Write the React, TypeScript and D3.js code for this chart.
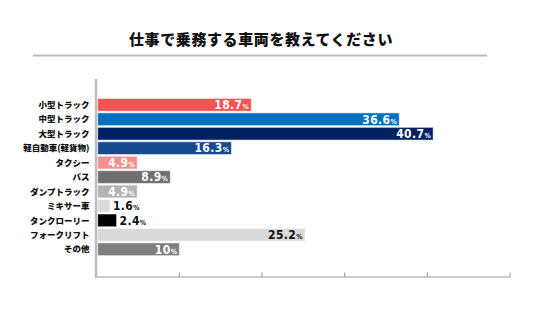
import React from "react";
import * as d3 from "d3";

const title = "仕事で乗務する車両を教えてください";
const categories = [
  "小型トラック",
  "中型トラック",
  "大型トラック",
  "軽自動車(軽貨物)",
  "タクシー",
  "バス",
  "ダンプトラック",
  "ミキサー車",
  "タンクローリー",
  "フォークリフト",
  "その他",
];
const values = [18.7, 36.6, 40.7, 16.3, 4.9, 8.9, 4.9, 1.6, 2.4, 25.2, 10];
const barColors = [
  "#f25353",
  "#0070c0",
  "#002060",
  "#174a8c",
  "#f78e8e",
  "#6f6f6f",
  "#b3b3b3",
  "#dcdcdc",
  "#000000",
  "#dadada",
  "#7f7f7f",
];
const xTicks = [10, 20, 30, 40, 50];

const W = 536;
const H = 335;

export default function App() {
  const x = d3.scaleLinear().domain([0, 50]).range([96.7, 510]);
  const y = d3
    .scaleBand<string>()
    .domain(categories)
    .range([97.6, 256.5])
    .paddingInner(0.12)
    .paddingOuter(0.06);
  const axisColor = "#bdbdbd";
  const jp = "'Noto Sans CJK JP', 'Noto Sans', sans-serif";
  const num = "'DejaVu Sans Condensed', 'DejaVu Sans', sans-serif";

  return (
    <svg
      width={W}
      height={H}
      viewBox={`0 0 ${W} ${H}`}
      style={{ position: "absolute", left: 0, top: 0, background: "#fff" }}
    >
      <text
        x={261}
        y={45}
        textAnchor="middle"
        fontFamily={jp}
        fontWeight={900}
        fontSize={15}
        letterSpacing={0.6}
        fill="#111"
      >
        {title}
      </text>
      <line x1={33} x2={487} y1={55.5} y2={55.5} stroke="#bbbbbb" strokeWidth={2} />

      {categories.map((c, i) => {
        const v = values[i];
        const y0 = y(c)!;
        const bw = y.bandwidth();
        const x1 = x(v);
        const rgb = d3.rgb(barColors[i]);
        const lum = (0.299 * rgb.r + 0.587 * rgb.g + 0.114 * rgb.b) / 255;
        const outside = v < 3;
        const txtColor = outside ? "#111" : lum > 0.8 ? "#111" : "#fff";
        const label = String(v);
        return (
          <g key={c}>
            <rect
              x={x(0) + 1}
              y={y0}
              width={x1 - x(0) - 1}
              height={bw}
              fill={barColors[i]}
              stroke="#ffffff"
              strokeOpacity={0.5}
              strokeWidth={1}
            />
            <text
              x={outside ? x1 + 3 : x1 - 2}
              y={y0 + bw / 2 + 4.3}
              textAnchor={outside ? "start" : "end"}
              fontFamily={num}
              fontWeight={700}
              fill={txtColor}
              letterSpacing={0.4}
            >
              <tspan fontSize={12}>{label}</tspan>
              <tspan fontSize={7}>%</tspan>
            </text>
            <text
              x={89.5}
              y={y0 + bw / 2 + 3.2}
              textAnchor="end"
              fontFamily={jp}
              fontWeight={900}
              fontSize={8.5}
              fill="#111"
            >
              {c}
            </text>
          </g>
        );
      })}

      <line x1={96} x2={96} y1={79} y2={277.5} stroke={axisColor} strokeWidth={2.5} />
      <line x1={95} x2={510.5} y1={277} y2={277} stroke={axisColor} strokeWidth={1.5} />
      {xTicks.map((t) => (
        <line
          key={t}
          x1={x(t)}
          x2={x(t)}
          y1={272.5}
          y2={277}
          stroke="#999"
          strokeWidth={1}
        />
      ))}
    </svg>
  );
}
